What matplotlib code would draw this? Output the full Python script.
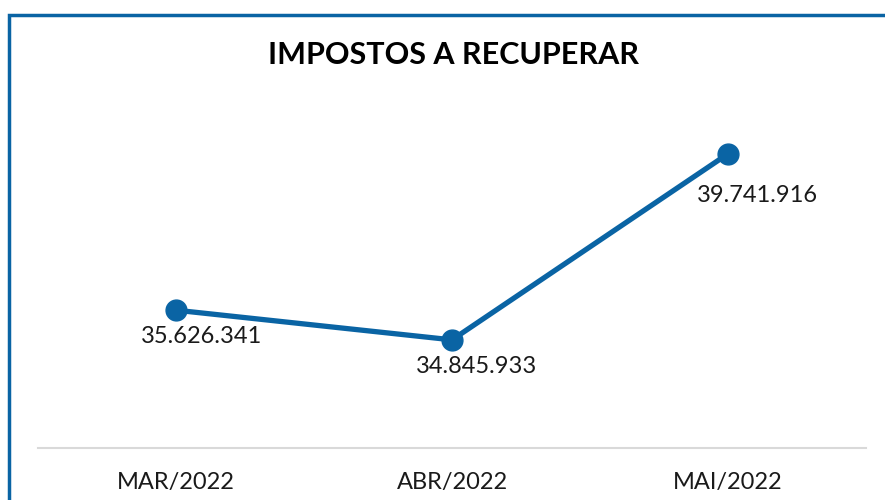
import matplotlib
matplotlib.use("Agg")
import matplotlib.pyplot as plt
from matplotlib.patches import Rectangle

# dados
meses = ["MAR/2022", "ABR/2022", "MAI/2022"]
valores = [35626341, 34845933, 39741916]
rotulos = ["35.626.341", "34.845.933", "39.741.916"]

azul = "#0a64a4"

plt.rcParams['font.family'] = ['Lato', 'DejaVu Sans']

fig = plt.figure(figsize=(8.85, 5.0), dpi=100)
ax = fig.add_axes([38 / 885, 52 / 500, 828 / 885, 342 / 500])

x = range(len(meses))
ax.plot(x, valores, color=azul, linewidth=3.8, marker='o', markersize=15,
        solid_capstyle='round')

# rótulos deslocados como no original
desloc = [(26, -26), (25, -27), (29, -42)]
for i, (v, r) in enumerate(zip(valores, rotulos)):
    ax.annotate(r, (i, v), xytext=desloc[i], textcoords='offset pixels',
                ha='center', va='center', fontsize=17, color='#1a1a1a')

ax.set_xlim(-0.5, len(meses) - 0.5)
ax.set_ylim(32000000, 41000000)
ax.set_xticks(list(x))
ax.set_xticklabels(meses, fontsize=17, color='#1a1a1a')
ax.tick_params(axis='x', length=0, pad=17)
ax.set_yticks([])
for s in ['top', 'right', 'left']:
    ax.spines[s].set_visible(False)
ax.spines['bottom'].set_color('#d9d9d9')
ax.spines['bottom'].set_linewidth(1.5)

fig.text(453 / 885, 1 - 55 / 500, "IMPOSTOS A RECUPERAR", ha='center', va='center',
         fontsize=22, fontweight='bold', color='black')

# moldura azul (cortada à direita e embaixo)
fig.patches.append(Rectangle((8.5 / 885, -0.1), 1.2, 1.1 - 15 / 500,
                             transform=fig.transFigure, fill=False,
                             edgecolor=azul, linewidth=2.5))

fig.savefig("out.png", dpi=100)
